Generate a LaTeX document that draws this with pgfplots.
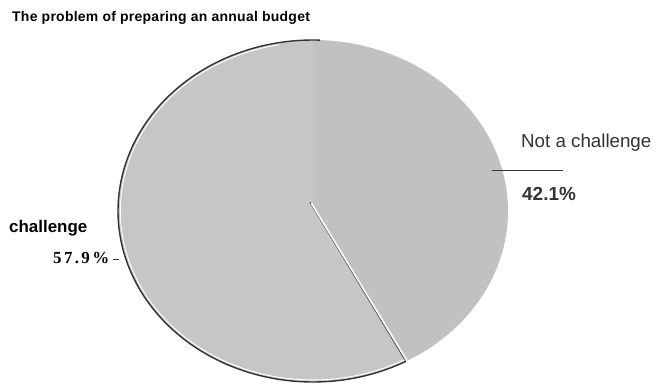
\documentclass[border=0pt]{standalone}
\usepackage{pgfplots}
\pgfplotsset{compat=1.18}
\usepackage{fontspec}
\setmainfont{Liberation Sans}
\newfontfamily\serifb{Liberation Serif}
\definecolor{sliceA}{HTML}{C6C6C6}
\definecolor{sliceB}{HTML}{C1C1C1}
\definecolor{txt}{HTML}{333333}
\begin{document}
\begin{tikzpicture}[x=1bp,y=1bp]
\path[use as bounding box] (0,0) rectangle (656,387);
% data (percent)
\def\vChallenge{57.9}
\def\vNot{42.1}
\pgfmathsetmacro{\aStart}{90}
\pgfmathsetmacro{\aMid}{90-\vNot*3.6}
\pgfmathsetmacro{\aEnd}{90+\vChallenge*3.6}
\begin{axis}[
  at={(118bp,5bp)}, anchor=south west,
  scale only axis, width=390bp, height=342bp,
  xmin=-1, xmax=1, ymin=-1, ymax=1,
  hide axis, clip=false]
% Not a challenge
\addplot[fill=sliceB, draw=none, domain=\aMid:\aStart, samples=120, variable=\t]
  ({cos(\t)},{sin(\t)}) -- (axis cs:0,0) -- cycle;
% challenge
\addplot[fill=sliceA, draw=none, domain=\aStart:\aEnd, samples=160, variable=\t]
  ({cos(\t)},{sin(\t)}) -- (axis cs:0,0) -- cycle;
% inner white rim
\addplot[draw=white, line width=0.9bp, domain=100:\aEnd, samples=160, variable=\t]
  ({0.988*cos(\t)},{0.988*sin(\t)});
% outline on left and bottom
\addplot[draw=black!80, line width=1.4bp, domain=88:\aEnd, samples=160, variable=\t]
  ({cos(\t)},{sin(\t)});
% separator
\addplot[draw=black!70, line width=1bp] coordinates {(-0.015,0.05) ({0.995*cos(\aMid)},{0.995*sin(\aMid)})};
\addplot[draw=white, line width=1.6bp] coordinates {(-0.008,0.045) ({0.995*cos(\aMid)+0.008},{0.995*sin(\aMid)})};
\end{axis}
% labels
\node[anchor=base west, inner sep=0, font=\fontsize{14}{16}\selectfont\bfseries\addfontfeatures{LetterSpace=2}] at (12,365.5) {The problem of preparing an annual budget};
\node[anchor=base west, inner sep=0, text=txt, font=\fontsize{18.8}{21}\selectfont] at (521,240) {Not a challenge};
\draw[txt, line width=0.9bp] (492,217) -- (563,217);
\node[anchor=base west, inner sep=0, text=txt, font=\fontsize{19}{21}\selectfont\bfseries] at (522,187) {42.1\%};
\node[anchor=base west, inner sep=0, font=\fontsize{17}{20}\selectfont\bfseries] at (9,155) {challenge};
\node[anchor=base west, inner sep=0, font=\fontsize{17}{20}\serifb\selectfont\bfseries\addfontfeatures{LetterSpace=14}] at (53,124) {57.9\%};
\draw[black!80, line width=0.9bp] (113,128) -- (119,128);
\end{tikzpicture}
\end{document}
